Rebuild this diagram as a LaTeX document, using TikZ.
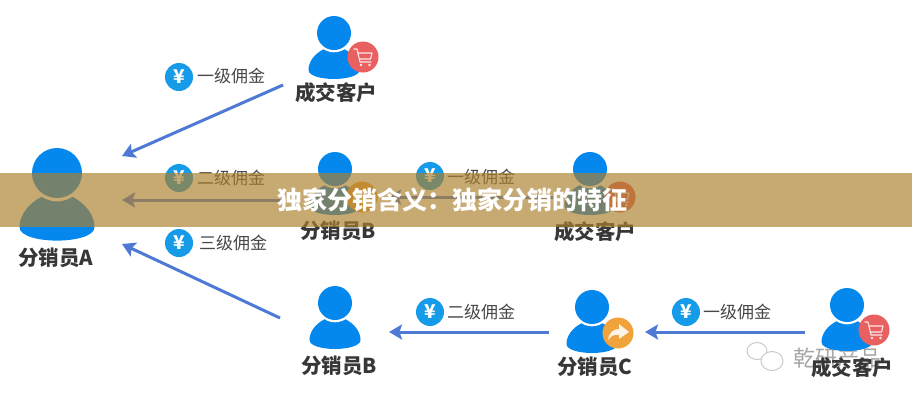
\documentclass[tikz,border=0pt]{standalone}
\usepackage{fontspec}
\setmainfont{Noto Sans CJK SC}
\usetikzlibrary{arrows.meta}
\definecolor{pblue}{RGB}{5,136,238}
\definecolor{yblue}{RGB}{22,155,232}
\definecolor{lineblue}{RGB}{78,122,214}
\definecolor{cartred}{RGB}{233,96,96}
\definecolor{shareor}{RGB}{240,163,58}
\definecolor{bannerc}{RGB}{172,127,45}
\definecolor{txt}{RGB}{72,72,72}
\definecolor{nametxt}{RGB}{55,55,55}
\tikzset{
  x=1pt,y=-1pt,
  flow/.style={draw=lineblue,line width=3pt,-{Stealth[length=13pt,width=15pt,inset=2.5pt]}},
  moneytag/.style={circle,fill=yblue,minimum size=28pt,inner sep=0pt,text=white,font=\fontsize{19}{19}\selectfont\bfseries},
  amount/.style={text=txt,inner sep=0pt,font=\fontsize{17}{17}\selectfont},
  whoname/.style={text=nametxt,inner sep=0pt,font=\fontsize{20.5}{21}\selectfont\bfseries},
  badge/.style={circle,minimum size=31pt,inner sep=0pt},
}
% person: head centre x,y and scale
\newcommand{\personfig}[3]{%
  \begin{scope}[shift={(#1,#2)},scale=#3]
    \fill[pblue] (-25.5,37) .. controls (-25.5,29) and (-20,21) .. (-10,16) -- (10,16)
      .. controls (20,21) and (25.5,29) .. (25.5,37)
      .. controls (25.5,43) and (12,46) .. (0,46)
      .. controls (-12,46) and (-25.5,43) .. (-25.5,37) -- cycle;
    \fill[white] (0,0) circle (19.3);
    \fill[pblue] (0,0) circle (17);
  \end{scope}}
\newcommand{\cartglyph}[2]{%
  \begin{scope}[shift={(#1,#2)}]
    \draw[white!85!cartred,line width=1.1pt,line join=round,line cap=round]
      (-9,-8) -- (-6,-8) -- (-3,5) -- (8,5) (-5,-4) -- (9,-4) -- (7.5,2) -- (-3.5,2);
    \fill[white!85!cartred] (-2,8) circle (1.4) (6.5,8) circle (1.4);
  \end{scope}}
\newcommand{\shareglyph}[2]{%
  \begin{scope}[shift={(#1,#2)}]
    \fill[white!88!shareor] (-10,7) .. controls (-9,-1) and (-4,-4) .. (1,-4) -- (1,-9) -- (11,-1) -- (1,6) -- (1,2)
      .. controls (-4,1) and (-7,3) .. (-10,7) -- cycle;
  \end{scope}}
\begin{document}
\begin{tikzpicture}
\useasboundingbox (0,0) rectangle (912,400);
\fill[white] (0,0) rectangle (912,400);

% watermark
\draw[gray!45,line width=.9pt,fill=white] (757,351) ellipse (10 and 8.5);
\draw[gray!45,line width=.9pt,fill=white] (772,361) ellipse (11 and 9.5);
\node[text=gray!70,inner sep=0pt,font=\fontsize{22}{22}\selectfont] (mark) at (837,358) {乾研产品};

% people
\personfig{57}{173}{1.47}
\personfig{334}{33}{1}
\personfig{335}{169}{1}
\personfig{590}{169}{1}
\personfig{335}{303}{1}
\personfig{592}{307}{1}
\personfig{847}{305}{1}

% badges
\node[badge,fill=cartred] (b1) at (363,57) {}; \cartglyph{363}{57}
\node[badge,fill=shareor] (b2) at (362,197) {}; \shareglyph{362}{197}
\node[badge,fill=cartred] (b3) at (620,197) {}; \cartglyph{620}{197}
\node[badge,fill=shareor] (b4) at (618,333) {}; \shareglyph{618}{333}
\node[badge,fill=cartred] (b5) at (874,330) {}; \cartglyph{874}{330}

% names
\node[whoname] (nA) at (56,258) {分销员A};
\node[whoname] (nKtop) at (336,93) {成交客户};
\node[whoname] (nBmid) at (338,231) {分销员B};
\node[whoname] (nKmid) at (595,232) {成交客户};
\node[whoname] (nBbot) at (339,366) {分销员B};
\node[whoname] (nC) at (595,367) {分销员C};
\node[whoname] (nKbot) at (852,368) {成交客户};

% connector ends
\coordinate (a1s) at (283,85);   \coordinate (a1e) at (122,156);
\coordinate (a2s) at (285,200);  \coordinate (a2e) at (122,200);
\coordinate (a3s) at (280,318);  \coordinate (a3e) at (122,244);
\coordinate (a4s) at (553,197);  \coordinate (a4e) at (388,197);
\coordinate (a5s) at (549,332);  \coordinate (a5e) at (389,332);
\coordinate (a6s) at (805,332);  \coordinate (a6e) at (645,332);
\draw[flow] (a1s) -- (a1e);
\draw[flow] (a2s) -- (a2e);
\draw[flow] (a3s) -- (a3e);
\draw[flow] (a4s) -- (a4e);
\draw[flow] (a5s) -- (a5e);
\draw[flow] (a6s) -- (a6e);

% money tags and amounts
\node[moneytag] (m1) at (179,77) {¥};
\node[amount,anchor=west] (t1) at (197,76) {一级佣金};
\node[moneytag] (m2) at (179,178) {¥};
\node[amount,anchor=west] (t2) at (197,178) {二级佣金};
\node[moneytag] (m3) at (179,243) {¥};
\node[amount,anchor=west] (t3) at (199,243) {三级佣金};
\node[moneytag] (m4) at (430,176) {¥};
\node[amount,anchor=west] (t4) at (447,177) {一级佣金};
\node[moneytag] (m5) at (430,312) {¥};
\node[amount,anchor=west] (t5) at (447,312) {二级佣金};
\node[moneytag] (m6) at (686,312) {¥};
\node[amount,anchor=west] (t6) at (703,312) {一级佣金};

% banner
\fill[bannerc,fill opacity=.67] (0,173) rectangle (912,227);
\node[text=white,inner sep=0pt,font=\fontsize{25}{25}\selectfont\bfseries] (title) at (452.5,200) {独家分销含义：独家分销的特征};
\end{tikzpicture}
\end{document}
